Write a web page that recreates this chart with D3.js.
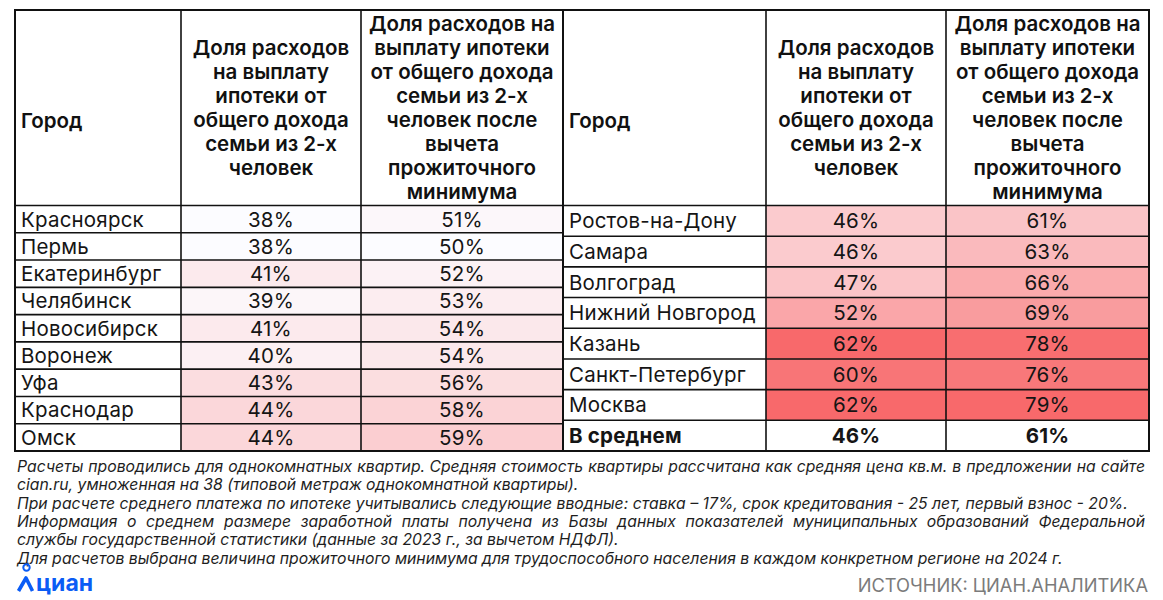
<!DOCTYPE html>
<html>
<head>
<meta charset="utf-8">
<script src="https://cdn.jsdelivr.net/npm/d3@7"></script>
<style>
  html, body { margin: 0; padding: 0; background: #fff; }
  svg { display: block; font-family: Inter, 'Noto Sans', sans-serif; }
</style>
</head>
<body>
<script>

/*
 * Mortgage burden by city, two-column table with a heat scale.
 */

// Header labels.
var cityHeader = 'Город';
var shareHeader = ['Доля расходов', 'на выплату', 'ипотеки от', 'общего дохода', 'семьи из 2-х', 'человек'];
var netHeader = ['Доля расходов на', 'выплату ипотеки', 'от общего дохода', 'семьи из 2-х', 'человек после', 'вычета', 'прожиточного', 'минимума'];

// Left table.
var leftCities = ['Красноярск', 'Пермь', 'Екатеринбург', 'Челябинск', 'Новосибирск', 'Воронеж', 'Уфа', 'Краснодар', 'Омск'];
var leftShare = [38, 38, 41, 39, 41, 40, 43, 44, 44];
var leftNet = [51, 50, 52, 53, 54, 54, 56, 58, 59];

// Right table.
var rightCities = ['Ростов-на-Дону', 'Самара', 'Волгоград', 'Нижний Новгород', 'Казань', 'Санкт-Петербург', 'Москва'];
var rightShare = [46, 46, 47, 52, 62, 60, 62];
var rightNet = [61, 63, 66, 69, 78, 76, 79];

// Average row.
var averageLabel = 'В среднем';
var averageShare = 46;
var averageNet = 61;

// Footnotes.
var notes = [
  'Расчеты проводились для однокомнатных квартир. Средняя стоимость квартиры рассчитана как средняя цена кв.м. в предложении на сайте',
  'cian.ru, умноженная на 38 (типовой метраж однокомнатной квартиры).',
  'При расчете среднего платежа по ипотеке учитывались следующие вводные: ставка – 17%, срок кредитования - 25 лет, первый взнос - 20%.',
  'Информация о среднем размере заработной платы получена из Базы данных показателей муниципальных образований Федеральной',
  'службы государственной статистики (данные за 2023 г., за вычетом НДФЛ).',
  'Для расчетов выбрана величина прожиточного минимума для трудоспособного населения в каждом конкретном регионе на 2024 г.'
];
var notesJustified = [true, false, false, true, false, false];
var sourceLabel = 'ИСТОЧНИК: ЦИАН.АНАЛИТИКА';
var logoLabel = 'циан';

// Frame.
var width = 1163;
var height = 600;
var tableTop = 10;
var headBottom = 205.5;
var tableBottom = 451;

var svg = d3.select('body').append('svg')
  .attr('width', width)
  .attr('height', height);

// Heat scales, one per value column.
var shareColor = d3.scaleLinear()
  .domain(d3.extent(leftShare.concat(rightShare)))
  .range(['#fcfcff', '#f8696b']);
var netColor = d3.scaleLinear()
  .domain(d3.extent(leftNet.concat(rightNet)))
  .range(['#fcfcff', '#f8696b']);

var pct = function(v) { return v + '%'; };

// Rows of each table.
var leftRows = leftCities.map(function(c, i) {
  return { city: c, share: leftShare[i], net: leftNet[i], average: false };
});
var rightRows = rightCities.map(function(c, i) {
  return { city: c, share: rightShare[i], net: rightNet[i], average: false };
});
rightRows.push({ city: averageLabel, share: averageShare, net: averageNet, average: true });

var tables = [
  { cols: [15, 181, 361, 563], rows: leftRows },
  { cols: [563, 766, 946, 1149], rows: rightRows }
];

/*
 * Draw one table.
 */
function drawTable(t) {

  var g = svg.append('g');
  var c = t.cols;
  var y = d3.scaleBand()
    .domain(d3.range(t.rows.length))
    .range([headBottom, tableBottom]);

  // Cells.
  var row = g.selectAll('g.row').data(t.rows).join('g')
    .attr('class', 'row')
    .attr('transform', function(d, i) { return 'translate(0,' + y(i) + ')'; });

  row.append('rect')
    .attr('x', c[1]).attr('width', c[2] - c[1])
    .attr('height', y.bandwidth())
    .attr('fill', function(d) { return d.average ? '#fff' : shareColor(d.share); });

  row.append('rect')
    .attr('x', c[2]).attr('width', c[3] - c[2])
    .attr('height', y.bandwidth())
    .attr('fill', function(d) { return d.average ? '#fff' : netColor(d.net); });

  // Cell texts.
  var cellText = function(sel) {
    return sel.attr('y', y.bandwidth() / 2).attr('dy', '0.36em')
      .attr('font-size', 20.5)
      .attr('letter-spacing', 0.2)
      .attr('font-weight', function(d) { return d.average ? 700 : 400; })
      .attr('fill', '#151515');
  };

  row.append('text').call(cellText)
    .attr('x', c[0] + 6)
    .text(function(d) { return d.city; });

  row.append('text').call(cellText)
    .attr('x', (c[1] + c[2]) / 2).attr('text-anchor', 'middle')
    .text(function(d) { return pct(d.share); });

  row.append('text').call(cellText)
    .attr('x', (c[2] + c[3]) / 2).attr('text-anchor', 'middle')
    .text(function(d) { return pct(d.net); });

  // Header.
  var head = g.append('g')
    .attr('font-size', 20.5)
    .attr('font-weight', 600)
    .attr('fill', '#111');

  head.append('text')
    .attr('x', c[0] + 6).attr('y', 121).attr('dy', '0.36em')
    .text(cityHeader);

  [[shareHeader, (c[1] + c[2]) / 2], [netHeader, (c[2] + c[3]) / 2]].forEach(function(h) {
    var lines = h[0];
    var mid = (tableTop + headBottom) / 2;
    head.append('text')
      .attr('text-anchor', 'middle')
      .selectAll('tspan').data(lines).join('tspan')
      .attr('x', h[1])
      .attr('y', function(d, i) { return mid + (i - (lines.length - 1) / 2) * 24; })
      .attr('dy', '0.36em')
      .text(function(d) { return d; });
  });

  // Grid.
  var lines = g.append('g').attr('stroke', '#111').attr('fill', 'none');
  var edges = [headBottom].concat(t.rows.map(function(d, i) { return y(i) + y.bandwidth(); }));

  lines.selectAll('line.h').data(edges.slice(0, -1)).join('line')
    .attr('x1', c[0]).attr('x2', c[3])
    .attr('y1', function(d) { return d; }).attr('y2', function(d) { return d; })
    .attr('stroke-width', 1.6);

  lines.selectAll('line.v').data(c.slice(1, 3)).join('line')
    .attr('x1', function(d) { return d; }).attr('x2', function(d) { return d; })
    .attr('y1', tableTop).attr('y2', tableBottom)
    .attr('stroke-width', 1.6);

  lines.append('rect')
    .attr('x', c[0]).attr('y', tableTop)
    .attr('width', c[3] - c[0]).attr('height', tableBottom - tableTop)
    .attr('stroke-width', 2);
}

tables.forEach(drawTable);

/*
 * Footnotes, justified where the paragraph wraps.
 */
var noteLeft = 17;
var noteRight = 1145;
var notes0 = 472;
var noteStep = 18.3;

var noteG = svg.append('g')
  .attr('font-style', 'italic')
  .attr('fill', '#1e1e1e');

// Fit the font size to the width of the last line.
var probe = noteG.append('text').attr('font-size', 14).text(notes[5]);
var noteSize = 14 * 1046 / probe.node().getComputedTextLength();
probe.remove();
noteG.attr('font-size', noteSize);

notes.forEach(function(line, i) {
  var text = noteG.append('text')
    .attr('x', noteLeft)
    .attr('y', notes0 + i * noteStep);

  if (!notesJustified[i]) {
    text.text(line);
    return;
  }

  var words = line.split(' ');
  var spans = text.selectAll('tspan').data(words).join('tspan')
    .text(function(d) { return d; });
  var widths = spans.nodes().map(function(n) { return n.getComputedTextLength(); });
  var gap = (noteRight - noteLeft - d3.sum(widths)) / (words.length - 1);
  var x = noteLeft;
  spans.attr('x', function(d, k) {
    var cx = x;
    x += widths[k] + gap;
    return cx;
  });
});

// Source.
svg.append('text')
  .attr('x', 1148).attr('y', 592)
  .attr('text-anchor', 'end')
  .attr('font-size', 18.3)
  .attr('fill', '#7b7b7b')
  .text(sourceLabel);

// Logo.
var logo = svg.append('g').attr('fill', 'none').attr('stroke', '#0a5cf5');
logo.append('circle')
  .attr('cx', 26.5).attr('cy', 567.5).attr('r', 3.2)
  .attr('stroke-width', 2);
logo.append('path')
  .attr('d', 'M18.5,591 L26,578 L32.5,591')
  .attr('stroke-width', 3.6)
  .attr('stroke-linejoin', 'round');
svg.append('text')
  .attr('x', 36).attr('y', 591)
  .attr('font-size', 23)
  .attr('font-weight', 700)
  .attr('fill', '#0a5cf5')
  .text(logoLabel);

</script>
</body>
</html>
